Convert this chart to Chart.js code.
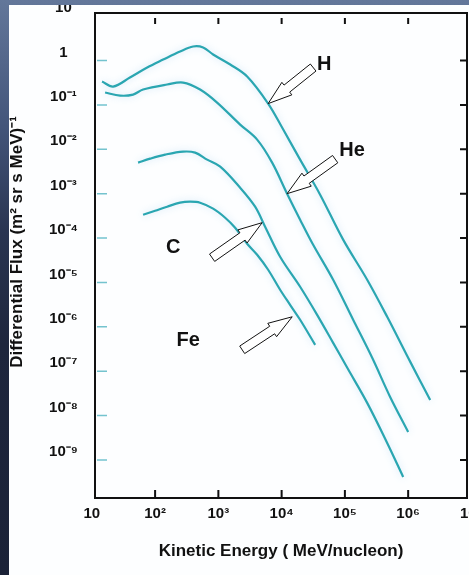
<!DOCTYPE html>
<html>
<head>
<meta charset="utf-8">
<title>Cosmic ray spectra</title>
<script src="https://cdn.jsdelivr.net/npm/chart.js@4.4.1/dist/chart.umd.min.js"></script>
<style>
  html, body { margin: 0; padding: 0; }
  body {
    width: 469px; height: 575px; overflow: hidden; position: relative;
    background: linear-gradient(180deg, #63779a 0%, #43557a 22%, #2a3552 40%, #1e263d 60%, #1b2237 100%);
  }
  #panel { position: absolute; left: 9px; top: 5px; width: 460px; height: 570px; background: #fdfeff; }
</style>
</head>
<body>
<div id="panel"><canvas id="fluxChart" width="460" height="570"></canvas></div>
<script>
// kinetic energy in MeV/nucleon, flux in (m^2 sr s MeV)^-1
const hEnergy = [14.5, 21.7, 40, 75, 134, 248, 399, 574, 826, 1540, 2850, 6120, 10600, 19600, 40600, 93800, 225000, 466000, 1080000, 2230000];
const hFlux = [0.336, 0.259, 0.414, 0.695, 1.05, 1.6, 2.07, 1.97, 1.37, 0.812, 0.436, 0.107, 0.0278, 0.00585, 9.5e-4, 9.2e-5, 1.15e-5, 1.68e-6, 1.62e-7, 2.25e-8];

const heEnergy = [16.2, 28, 44.9, 64.6, 155, 277, 514, 955, 2210, 4100, 7080, 12200, 19600, 31500, 65200, 135000, 270000, 519000, 1000000];
const heFlux = [0.19, 0.162, 0.171, 0.222, 0.288, 0.319, 0.222, 0.113, 0.036, 0.0165, 0.005, 1.0e-3, 2.59e-4, 7.06e-5, 1.15e-5, 1.44e-6, 2.0e-7, 2.63e-8, 4.28e-9];

const cEnergy = [53.8, 83.4, 144, 277, 429, 664, 1070, 2210, 3810, 5480, 9460, 19600, 36400, 65200, 109000, 225000, 466000, 834000];
const cFlux = [5.0e-3, 6.15e-3, 7.58e-3, 8.86e-3, 8.41e-3, 5.85e-3, 4.06e-3, 1.36e-3, 5.09e-4, 1.8e-4, 3.79e-5, 7.98e-6, 1.86e-6, 4.35e-7, 1.19e-7, 1.93e-8, 2.41e-9, 4.13e-10];

const feEnergy = [64.6, 100, 155, 248, 357, 514, 826, 1280, 1840, 2850, 4100, 6120, 9460, 13600, 19600, 33900];
const feFlux = [3.36e-4, 4.13e-4, 5.09e-4, 6.26e-4, 6.59e-4, 6.26e-4, 4.59e-4, 2.87e-4, 1.71e-4, 7.45e-5, 4.2e-5, 1.93e-5, 6.83e-6, 3.13e-6, 1.44e-6, 3.92e-7];

const energyTicks = [10, 1e2, 1e3, 1e4, 1e5, 1e6, 1e7];
const energyTickLabels = ['10', '10²', '10³', '10⁴', '10⁵', '10⁶', '10⁷'];
const fluxTicks = [10, 1, 1e-1, 1e-2, 1e-3, 1e-4, 1e-5, 1e-6, 1e-7, 1e-8, 1e-9];
const fluxTickLabels = ['10', '1', '10⁻¹', '10⁻²', '10⁻³', '10⁻⁴', '10⁻⁵', '10⁻⁶', '10⁻⁷', '10⁻⁸', '10⁻⁹'];

// element names with their arrows: [energy, flux] of text, arrow tip and arrow tail
const calloutNames = ['H', 'He', 'C', 'Fe'];
const calloutText = [[47000, 0.81], [130000, 9.3e-3], [193, 6.05e-5], [333, 4.83e-7]];
const calloutTip = [[6120, 0.107], [12200, 1.0e-3], [4920, 2.22e-4], [14700, 1.68e-6]];
const calloutTail = [[31500, 0.695], [70200, 6.0e-3], [796, 3.6e-5], [2380, 3.03e-7]];

const yTitle = 'Differential Flux (m² sr s MeV)⁻¹';

const FONT = "'Liberation Sans', Arial, sans-serif";
const INK = '#111';
const TEAL = '#2aa6b1';

const toPoints = (xs, ys) => xs.map((x, i) => ({ x: x, y: ys[i] }));

const series = (label, xs, ys) => ({
  label: label,
  data: toPoints(xs, ys),
  borderColor: TEAL,
  borderWidth: 2.2,
  pointRadius: 0,
  tension: 0.35,
  fill: false
});

// soft bluish halo the scanned curves carry
const haloPlugin = {
  id: 'halo',
  beforeDatasetsDraw(chart) {
    chart.ctx.save();
    chart.ctx.shadowColor = 'rgba(140,195,235,0.45)';
    chart.ctx.shadowBlur = 7;
  },
  afterDatasetsDraw(chart) {
    chart.ctx.restore();
  }
};

// box with inward ticks, like the old plotting package
const framePlugin = {
  id: 'frame',
  afterDatasetsDraw(chart) {
    const { ctx, chartArea: a, scales: { x, y } } = chart;
    const decades = fluxTicks.slice(1);
    ctx.save();
    ctx.strokeStyle = INK;
    ctx.lineWidth = 2;
    ctx.strokeRect(a.left, a.top, a.right - a.left, a.bottom - a.top);

    ctx.beginPath();
    energyTicks.forEach(v => {
      const px = x.getPixelForValue(v);
      if (px <= a.left + 2 || px >= a.right - 2) return;
      ctx.moveTo(px, a.bottom);
      ctx.lineTo(px, a.bottom - 8);
      ctx.moveTo(px, a.top + 5);
      ctx.lineTo(px, a.top + 11);
    });
    decades.forEach(v => {
      const py = y.getPixelForValue(v);
      ctx.moveTo(a.right, py);
      ctx.lineTo(a.right - 7, py);
    });
    ctx.stroke();

    ctx.strokeStyle = 'rgba(70,175,190,0.75)';
    ctx.lineWidth = 1.5;
    ctx.beginPath();
    decades.forEach(v => {
      const py = y.getPixelForValue(v);
      ctx.moveTo(a.left + 2, py);
      ctx.lineTo(a.left + 12, py);
    });
    ctx.stroke();
    ctx.restore();
  }
};

// hollow arrows pointing at each curve, the element symbols and the flux title
const calloutPlugin = {
  id: 'callouts',
  afterDraw(chart) {
    const { ctx, scales: { x, y } } = chart;
    ctx.save();
    calloutNames.forEach((name, i) => {
      const tx = x.getPixelForValue(calloutTip[i][0]);
      const ty = y.getPixelForValue(calloutTip[i][1]);
      const sx = x.getPixelForValue(calloutTail[i][0]);
      const sy = y.getPixelForValue(calloutTail[i][1]);
      const len = Math.hypot(tx - sx, ty - sy);
      const ux = (tx - sx) / len, uy = (ty - sy) / len;
      const nx = -uy, ny = ux;
      const head = 24, hw = 8, sw = 4.5;
      const bx = tx - ux * head, by = ty - uy * head;
      ctx.beginPath();
      ctx.moveTo(sx + nx * sw, sy + ny * sw);
      ctx.lineTo(bx + nx * sw, by + ny * sw);
      ctx.lineTo(bx + nx * hw, by + ny * hw);
      ctx.lineTo(tx, ty);
      ctx.lineTo(bx - nx * hw, by - ny * hw);
      ctx.lineTo(bx - nx * sw, by - ny * sw);
      ctx.lineTo(sx - nx * sw, sy - ny * sw);
      ctx.closePath();
      ctx.fillStyle = '#fff';
      ctx.fill();
      ctx.strokeStyle = INK;
      ctx.lineWidth = 1;
      ctx.stroke();

      ctx.fillStyle = INK;
      ctx.font = 'bold 20px ' + FONT;
      ctx.textAlign = 'center';
      ctx.textBaseline = 'middle';
      ctx.fillText(name, x.getPixelForValue(calloutText[i][0]), y.getPixelForValue(calloutText[i][1]));
    });

    ctx.translate(8, 237);
    ctx.rotate(-Math.PI / 2);
    ctx.fillStyle = INK;
    ctx.font = 'bold 17px ' + FONT;
    ctx.textAlign = 'center';
    ctx.textBaseline = 'middle';
    ctx.fillText(yTitle, 0, 0);
    ctx.restore();
  }
};

new Chart(document.getElementById('fluxChart'), {
  type: 'line',
  data: {
    datasets: [
      series('H', hEnergy, hFlux),
      series('He', heEnergy, heFlux),
      series('C', cEnergy, cFlux),
      series('Fe', feEnergy, feFlux)
    ]
  },
  options: {
    responsive: false,
    animation: false,
    layout: { padding: { left: 0, right: 2, top: 8, bottom: 0 } },
    plugins: { legend: { display: false }, tooltip: { enabled: false } },
    scales: {
      x: {
        type: 'logarithmic',
        min: Math.pow(10, 1.05),
        max: Math.pow(10, 6.93),
        grid: { display: false, drawTicks: false },
        border: { display: false },
        afterBuildTicks: s => { s.ticks = energyTicks.map(v => ({ value: v })); },
        afterFit: s => { s.height = 77; s.paddingLeft = 0; s.paddingRight = 0; },
        ticks: {
          autoSkip: false,
          maxRotation: 0,
          padding: 7,
          color: INK,
          font: { family: FONT, size: 15, weight: 'bold' },
          callback: (v, i) => energyTickLabels[i]
        },
        title: {
          display: true,
          text: 'Kinetic Energy ( MeV/nucleon)',
          color: INK,
          font: { family: FONT, size: 17, weight: 'bold' },
          padding: { top: 0, bottom: 13 }
        }
      },
      y: {
        type: 'logarithmic',
        min: Math.pow(10, -9.858),
        max: Math.pow(10, 1.071),
        grid: { display: false, drawTicks: false },
        border: { display: false },
        afterBuildTicks: s => { s.ticks = fluxTicks.map(v => ({ value: v })); },
        afterFit: s => { s.width = 86; s.paddingTop = 0; s.paddingBottom = 0; },
        ticks: {
          autoSkip: false,
          crossAlign: 'center',
          padding: 17,
          labelOffset: -8,
          color: INK,
          font: { family: FONT, size: 15, weight: 'bold' },
          callback: (v, i) => fluxTickLabels[i]
        }
      }
    }
  },
  plugins: [haloPlugin, framePlugin, calloutPlugin]
});
</script>
</body>
</html>
